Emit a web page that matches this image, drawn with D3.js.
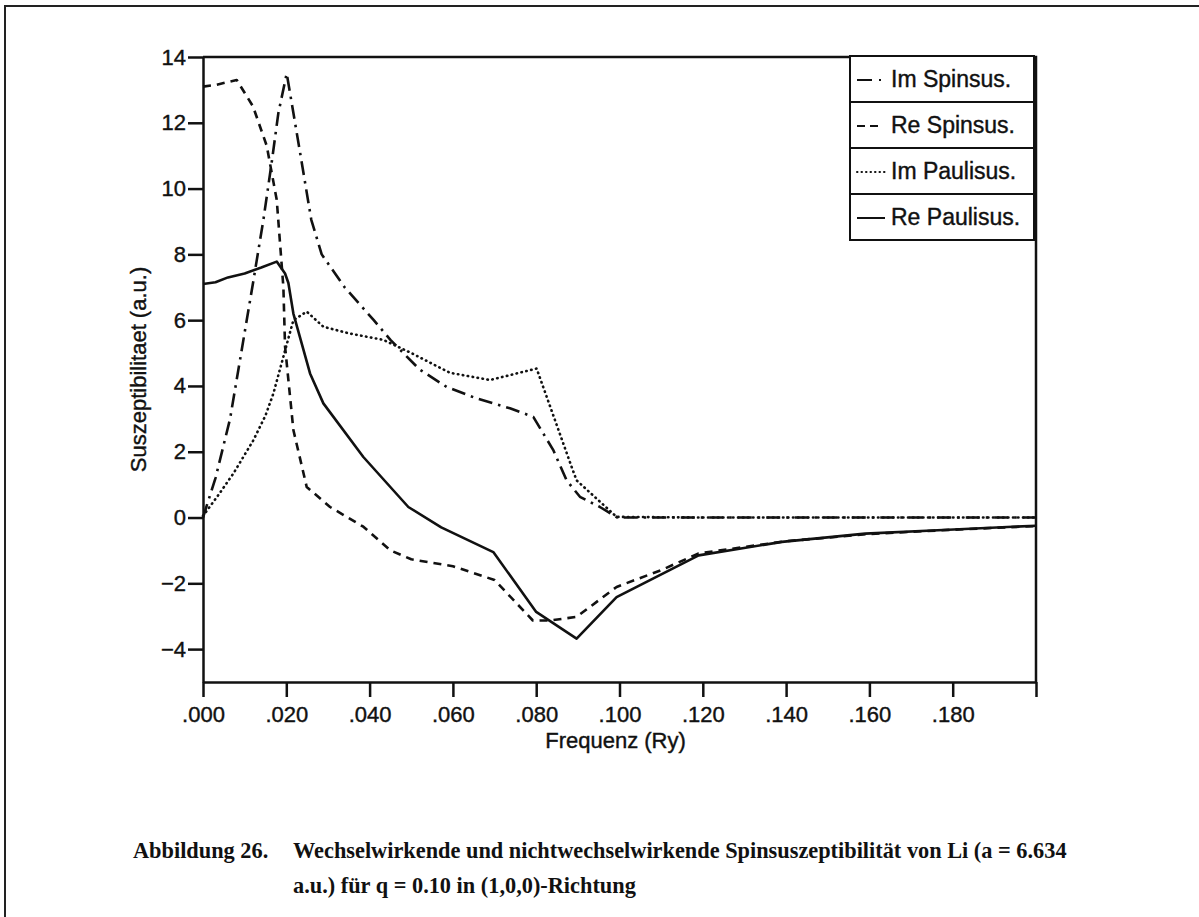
<!DOCTYPE html>
<html>
<head>
<meta charset="utf-8">
<script src="https://cdn.jsdelivr.net/npm/d3@7"></script>
<style>
  body { margin: 0; background: #fff; }
  svg { display: block; }
  .axis path, .axis line { stroke: #111; stroke-width: 2.5; }
  .axis text { font-family: "Liberation Sans", Arial, sans-serif; font-size: 22px; fill: #111; stroke: #111; stroke-width: 0.4; }
  .lbl { font-family: "Liberation Sans", Arial, sans-serif; font-size: 22px; fill: #111; stroke: #111; stroke-width: 0.4; }
  .cap { font-family: "Liberation Serif", "Times New Roman", serif; font-size: 23px; font-weight: bold; fill: #111; }
</style>
</head>
<body>
<script>

// series: frequency (Ry) and susceptibility (a.u.)
var imSpinF = [0, .003, .0065, .0097, .0121, .0145, .0165, .0181, .0201, .0233, .026, .0285, .034, .041, .045, .052, .0585, .0657, .0737, .0793, .0841, .0873, .0905, .0953, .0995, .12, .14, .16, .18, .2];
var imSpinV = [0, 1.2, 3.0, 5.4, 7.2, 9.05, 10.8, 12.3, 13.5, 11.1, 9.05, 8.0, 7.0, 6.0, 5.4, 4.5, 3.97, 3.62, 3.32, 3.06, 2.05, 1.13, 0.63, 0.32, 0, 0, 0, 0, 0, 0];

var reSpinF = [0, .003, .0081, .012, .0153, .0177, .0193, .0197, .0217, .0249, .0305, .0385, .045, .05, .06, .07, .0792, .0833, .0897, .0993, .11, .119, .14, .16, .18, .2];
var reSpinV = [13.1, 13.15, 13.3, 12.5, 11.3, 9.66, 7.0, 5.2, 2.66, 0.93, 0.32, -0.28, -1.0, -1.27, -1.48, -1.9, -3.13, -3.13, -3.02, -2.11, -1.6, -1.09, -0.72, -0.5, -0.37, -0.26];

var imPauliF = [0, .0035, .0073, .0121, .015, .0169, .0193, .0217, .0249, .0289, .035, .0433, .05, .0593, .0689, .0801, .0885, .0897, .0993, .12, .14, .16, .18, .2];
var imPauliV = [0.05, 0.65, 1.34, 2.35, 3.1, 3.77, 4.89, 6.0, 6.26, 5.8, 5.6, 5.4, 5.0, 4.4, 4.18, 4.53, 1.54, 1.13, 0.02, 0, 0, 0, 0, 0];

var rePauliF = [0, .003, .006, .010, .014, .0177, .0197, .0205, .0217, .0257, .0289, .0385, .0493, .0572, .0697, .080, .0897, .0993, .119, .139, .159, .179, .2];
var rePauliV = [7.1, 7.15, 7.3, 7.42, 7.6, 7.78, 7.42, 7.13, 6.2, 4.38, 3.47, 1.84, 0.32, -0.3, -1.05, -2.87, -3.68, -2.42, -1.15, -0.74, -0.49, -0.37, -0.25];

var legendNames = ["Im Spinsus.", "Re Spinsus.", "Im Paulisus.", "Re Paulisus."];
var xTicks = [0, .02, .04, .06, .08, .1, .12, .14, .16, .18, .2];
var yTicks = [-4, -2, 0, 2, 4, 6, 8, 10, 12, 14];

var W = 1199, H = 917;
var pLeft = 203, pRight = 1036, pTop = 57, pBottom = 682;

var svg = d3.select("body").append("svg")
  .attr("width", W)
  .attr("height", H);

// page frame of the scan
svg.append("path")
  .attr("d", "M5," + H + "V6H" + W)
  .attr("fill", "none")
  .attr("stroke", "#222")
  .attr("stroke-width", 2);

var x = d3.scaleLinear().domain([0, 0.2]).range([pLeft, pRight]);
var y = d3.scaleLinear().domain([-5, 14]).range([pBottom, pTop]);

var fmtX = function(d) {
  if (d > 0.19) return "";
  return d3.format(".3f")(d).replace(/^0/, "");
};

svg.append("g")
  .attr("class", "axis")
  .attr("transform", "translate(0," + pBottom + ")")
  .call(d3.axisBottom(x).tickValues(xTicks).tickSize(15).tickSizeOuter(0).tickPadding(9).tickFormat(fmtX));

svg.append("g")
  .attr("class", "axis")
  .attr("transform", "translate(" + pLeft + ",0)")
  .call(d3.axisLeft(y).tickValues(yTicks).tickSize(15).tickSizeOuter(0).tickPadding(2));

// top and right frame lines
svg.append("path")
  .attr("d", "M" + pLeft + "," + pTop + "H" + pRight + "V" + pBottom)
  .attr("fill", "none")
  .attr("stroke", "#111")
  .attr("stroke-width", 2.5);

var styles = [
  { dash: "14,6,2.5,6", cap: "butt" },
  { dash: "8,6", cap: "butt" },
  { dash: "0.5,4.5", cap: "round" },
  { dash: null, cap: "butt" }
];

var series = [
  d3.zip(imSpinF, imSpinV),
  d3.zip(reSpinF, reSpinV),
  d3.zip(imPauliF, imPauliV),
  d3.zip(rePauliF, rePauliV)
];

var line = d3.line()
  .x(function(d) { return x(d[0]); })
  .y(function(d) { return y(d[1]); });

svg.append("g").selectAll("path")
  .data(series)
  .join("path")
  .attr("d", line)
  .attr("fill", "none")
  .attr("stroke", "#111")
  .attr("stroke-width", 2.6)
  .attr("stroke-linejoin", "round")
  .attr("stroke-linecap", function(d, i) { return styles[i].cap; })
  .attr("stroke-dasharray", function(d, i) { return styles[i].dash; });

// legend box with four rows
var lgX = 850, lgY = 56, lgW = 184, rowH = 46;
var lg = svg.append("g");

lg.selectAll("rect")
  .data(legendNames)
  .join("rect")
  .attr("x", lgX)
  .attr("y", function(d, i) { return lgY + i * rowH; })
  .attr("width", lgW)
  .attr("height", rowH)
  .attr("fill", "#fff")
  .attr("stroke", "#111")
  .attr("stroke-width", 2);

lg.selectAll("path.sample")
  .data(legendNames)
  .join("path")
  .attr("class", "sample")
  .attr("d", function(d, i) {
    var yy = lgY + i * rowH + rowH / 2 + 1;
    if (i == 0) return "M857," + yy + "H872M879," + yy + "H881";
    if (i == 1) return "M857," + yy + "H865M870," + yy + "H878";
    return "M857," + yy + "H885";
  })
  .attr("fill", "none")
  .attr("stroke", "#111")
  .attr("stroke-width", 2)
  .attr("stroke-linecap", function(d, i) { return i == 2 ? "round" : "butt"; })
  .attr("stroke-dasharray", function(d, i) { return i == 2 ? "0.5,4" : null; });

lg.selectAll("text")
  .data(legendNames)
  .join("text")
  .attr("class", "lbl")
  .style("font-size", "23px")
  .attr("x", 891)
  .attr("y", function(d, i) { return lgY + i * rowH + rowH / 2 + 8; })
  .text(function(d) { return d; });

// axis titles
svg.append("text")
  .attr("class", "lbl")
  .attr("text-anchor", "middle")
  .attr("x", (pLeft + pRight) / 2 - 4)
  .attr("y", 748)
  .text("Frequenz (Ry)");

svg.append("text")
  .attr("class", "lbl")
  .attr("text-anchor", "middle")
  .attr("transform", "translate(146," + (pTop + pBottom) / 2 + ")rotate(-90)")
  .text("Suszeptibilitaet (a.u.)");

// caption, condensed like the scanned serif face
var cap = svg.append("g");
cap.append("text").attr("class", "cap").attr("x", 133).attr("y", 858).text("Abbildung 26.");
var l1 = cap.append("text").attr("class", "cap").attr("x", 293).attr("y", 858)
  .text("Wechselwirkende und nichtwechselwirkende Spinsuszeptibilität von Li (a = 6.634");
cap.append("text").attr("class", "cap").attr("x", 293).attr("y", 893)
  .text("a.u.) für q  =  0.10 in (1,0,0)-Richtung");

var k = 774 / l1.node().getComputedTextLength();
cap.selectAll("text").each(function() {
  var t = d3.select(this);
  var x0 = +t.attr("x");
  t.attr("transform", "translate(" + x0 + ",0)scale(" + k + ",1)translate(" + (-x0) + ",0)");
});

</script>
</body>
</html>
